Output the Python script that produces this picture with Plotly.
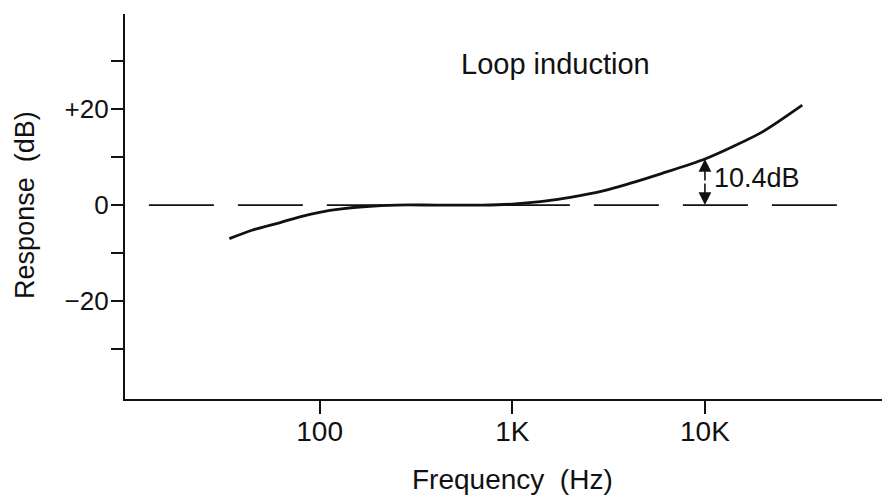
import plotly.graph_objects as go
import math

# ---- data ----
freq_hz = [34, 45, 63, 80, 100, 130, 175, 250, 400, 700, 1000, 1400, 2000,
           3000, 4000, 6000, 10000, 14000, 20000, 32000]
response_db = [-7.0, -5.2, -3.6, -2.4, -1.5, -0.8, -0.3, 0.0, 0.0, 0.0, 0.2,
               0.7, 1.6, 3.0, 4.4, 6.6, 9.6, 12.2, 15.3, 20.8]

ref_freq = [13, 52000]
ref_db = [0, 0]

x_tick_vals = [100, 1000, 10000]
x_tick_text = ["100", "1K", "10K"]
y_tick_vals = [-30, -20, -10, 0, 10, 20, 30]
y_tick_text = ["", "\u221220", "", "0", "", "+20", ""]

marker_freq = 10000
marker_db = 9.6
marker_label = "10.4dB"
title_text = "Loop induction"

FONT = "Liberation Sans, Arial, Helvetica, sans-serif"
INK = "#111111"

fig = go.Figure()

fig.add_trace(go.Scatter(
    x=ref_freq, y=ref_db, mode="lines",
    line=dict(color=INK, width=1.8, dash="65px,24px"),
    hoverinfo="skip", showlegend=False))

fig.add_trace(go.Scatter(
    x=freq_hz, y=response_db, mode="lines",
    line=dict(color=INK, width=2.8, shape="spline", smoothing=0.8),
    showlegend=False))

mid = marker_db / 2
lx = math.log10(marker_freq)
for end in (marker_db, 0):
    fig.add_annotation(
        x=lx, y=end, ax=lx, ay=mid, xref="x", yref="y", axref="x", ayref="y",
        text="", showarrow=True, arrowhead=2, arrowsize=1.6, arrowwidth=1.6,
        arrowcolor=INK, standoff=0, startstandoff=0)

fig.add_annotation(
    x=math.log10(14000) - 0.11, y=5.6, xref="x", yref="y",
    text=marker_label, showarrow=False, xanchor="left", yanchor="middle",
    font=dict(family=FONT, size=27, color=INK))

fig.add_annotation(
    x=math.log10(1670), y=29.3, xref="x", yref="y",
    text=title_text, showarrow=False, xanchor="center", yanchor="middle",
    font=dict(family=FONT, size=29, color=INK))

fig.add_annotation(
    x=-0.133, y=0.505, xref="paper", yref="paper",
    text="Response  (dB)", showarrow=False, textangle=-90,
    xanchor="center", yanchor="middle",
    font=dict(family=FONT, size=27, color=INK))

fig.add_annotation(
    x=0.5125, y=-0.21, xref="paper", yref="paper",
    text="Frequency  (Hz)", showarrow=False,
    xanchor="center", yanchor="middle",
    font=dict(family=FONT, size=28, color=INK))

fig.update_layout(
    width=886, height=496,
    margin=dict(l=125, r=4, t=14, b=97),
    paper_bgcolor="white", plot_bgcolor="white",
    font=dict(family=FONT, color=INK),
)

fig.update_xaxes(
    type="log", range=[0.990, 4.919],
    tickvals=x_tick_vals, ticktext=x_tick_text,
    ticks="outside", ticklen=13, tickwidth=1.5, tickcolor=INK,
    showline=True, linecolor=INK, linewidth=2.4,
    showgrid=False, zeroline=False, ticklabelstandoff=-7,
    tickfont=dict(family=FONT, size=28, color=INK),
)
fig.update_yaxes(
    range=[-40.4, 39.8],
    tickvals=y_tick_vals, ticktext=y_tick_text,
    ticks="outside", ticklen=12, tickwidth=1.5, tickcolor=INK,
    showline=True, linecolor=INK, linewidth=2.4,
    showgrid=False, zeroline=False, ticklabelstandoff=-3,
    tickfont=dict(family=FONT, size=26, color=INK),
)

fig.write_html("out.html", config={"displayModeBar": False},
               post_script="document.body.style.margin='0';document.body.style.padding='0';")
